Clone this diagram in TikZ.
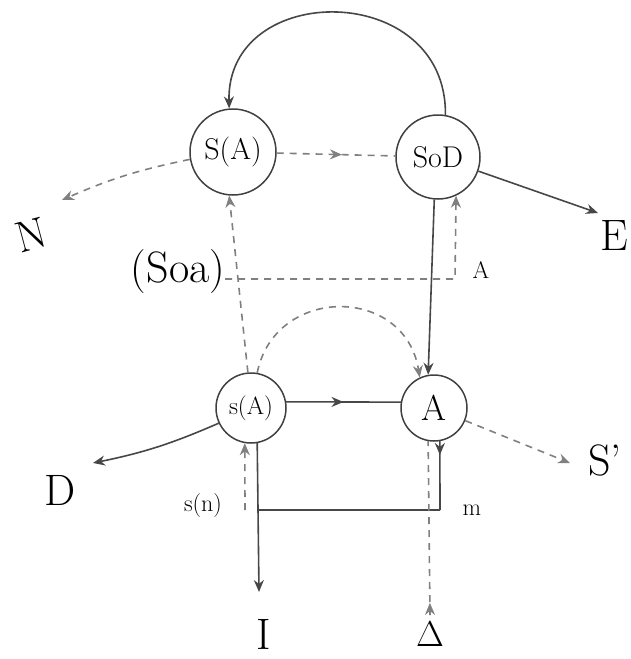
\documentclass[tikz,border=0pt]{standalone}
\usetikzlibrary{arrows.meta,decorations.markings}
\tikzset{
  st/.style={circle,draw=black!75,line width=1.5pt,inner sep=0pt},
  big/.style={font=\fontsize{44}{46}\selectfont,inner sep=0pt},
  sml/.style={font=\fontsize{24}{26}\selectfont,inner sep=0pt},
  ln/.style={line width=1.6pt,draw=black!72},
  dsh/.style={line width=1.6pt,draw=black!50,dash pattern=on 7pt off 6pt},
  tip/.style={-{Stealth[length=12pt,width=10pt]}},
  midtip/.style={postaction=decorate,decoration={markings,
      mark=at position #1 with {\arrow{Stealth[length=12pt,width=10pt]}}}},
  midtip/.default=0.5
}
\begin{document}
\begin{tikzpicture}[x=1pt,y=-1pt]
\useasboundingbox (0,0) rectangle (630,659);
% state circles
\node[st,minimum size=86pt,font=\fontsize{30}{32}\selectfont] (SA) at (233,152) {S(A)};
\node[st,minimum size=84pt,font=\fontsize{30}{32}\selectfont] (SoD) at (438,157) {SoD};
\node[st,minimum size=70pt,font=\fontsize{25}{27}\selectfont] (sA) at (251,408) {s(A)};
\node[st,minimum size=66pt,font=\fontsize{36}{38}\selectfont] (A) at (434,408) {A};
% labels
\node[big,rotate=15] (N) at (31,235) {N};
\node[big] (Soa) at (178,272) {(Soa)};
\node[sml] (lam) at (481,270) {A};
\node[big] (D) at (60,490) {D};
\node[big] (Sp) at (605,460) {S'};
\node[big] (E) at (614,236) {E};
\node[big] (I) at (264,634) {I};
\node[big,font=\fontsize{36}{38}\selectfont] (Dl) at (430,634) {Δ};
\node[sml] (sn) at (203,506) {s(n)};
\node[sml] (m) at (472,510) {m};
% free ends
\coordinate (Ne) at (62,200);
\coordinate (Ee) at (598,213);
\coordinate (De) at (93,463);
\coordinate (Se) at (570,463);
\coordinate (Ie) at (259,592);
\coordinate (c1) at (258,510);
\coordinate (c2) at (440,510);
\coordinate (dL) at (245,510);
\coordinate (k) at (455,279);
% top loop
\draw[ln,tip] (SoD.80) .. controls (447,-20) and (226,-20) .. (SA.95);
\draw[dsh,midtip=0.55] (SA) -- (SoD);
\draw[dsh,tip] (SA) to[bend right=6] (Ne);
\draw[ln,tip] (SoD) -- (Ee);
% verticals between levels
\draw[ln,tip] (SoD.265) -- (A.100);
\draw[dsh,tip] (k -| Soa.east) -- (k) -- (SoD.295);
\draw[dsh,tip] (sA.95) -- (SA.265);
\draw[dsh,tip] (sA.80) .. controls (275,285) and (405,285) .. (A.115);
% lower level
\draw[ln,midtip=0.5] (sA.10) -- (A.170);
\draw[ln,tip] (sA) to[bend left=6] (De);
\draw[dsh,tip] (A) -- (Se);
% bottom
\draw[ln,tip] (sA.280) -- (Ie);
\draw[ln,midtip=0.2] (A.280) -- (c2);
\draw[ln] (c2) -- (c1);
\draw[dsh,tip] (dL) -- (sA.260);
\draw[dsh,midtip=0.07] (Dl.north) ++(0,-6) -- (A.260);
\end{tikzpicture}
\end{document}
